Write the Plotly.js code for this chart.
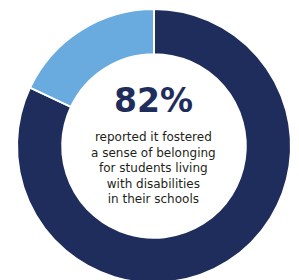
<!DOCTYPE html>
<html>
<head>
<meta charset="utf-8">
<script src="https://cdn.plot.ly/plotly-3.0.1.min.js"></script>
<style>
html, body { margin: 0; padding: 0; overflow: hidden; background: #fff; }
#chart { width: 299px; height: 292px; }
</style>
</head>
<body>
<div id="chart"></div>
<script>
const labels = ["Fostered a sense of belonging", "Other"];
const values = [82, 18];
const colors = ["#1f2d5c", "#6aabdf"];
const headline = "82%";
const bodyLines = [
  "reported it fostered",
  "a sense of belonging",
  "for students living",
  "with disabilities",
  "in their schools"
];

const W = 299, H = 292;
const annotations = [{
  text: "<b>" + headline + "</b>",
  x: 153 / W, y: 1 - 100.5 / H, xref: "paper", yref: "paper",
  xanchor: "center", yanchor: "middle", showarrow: false,
  font: { family: "'DejaVu Sans', sans-serif", size: 33, color: "#1f2d5c" }
}, {
  text: bodyLines.join("<br>"),
  x: 153 / W, y: 1 - 167.5 / H, xref: "paper", yref: "paper",
  xanchor: "center", yanchor: "middle", align: "center", showarrow: false,
  font: { family: "'DejaVu Sans', sans-serif", size: 12, color: "#231f20" }
}];

Plotly.newPlot("chart", [{
  type: "pie",
  labels: labels,
  values: values,
  hole: 0.67,
  sort: false,
  direction: "clockwise",
  rotation: 0,
  textinfo: "none",
  hoverinfo: "none",
  marker: { colors: colors, line: { color: "#ffffff", width: 2 } },
  domain: { x: [17 / W, 291 / W], y: [9 / H, 283 / H] }
}], {
  width: W, height: H,
  margin: { l: 0, r: 0, t: 0, b: 0 },
  showlegend: false,
  paper_bgcolor: "#ffffff",
  annotations: annotations
}, { displayModeBar: false, staticPlot: true });
</script>
</body>
</html>
